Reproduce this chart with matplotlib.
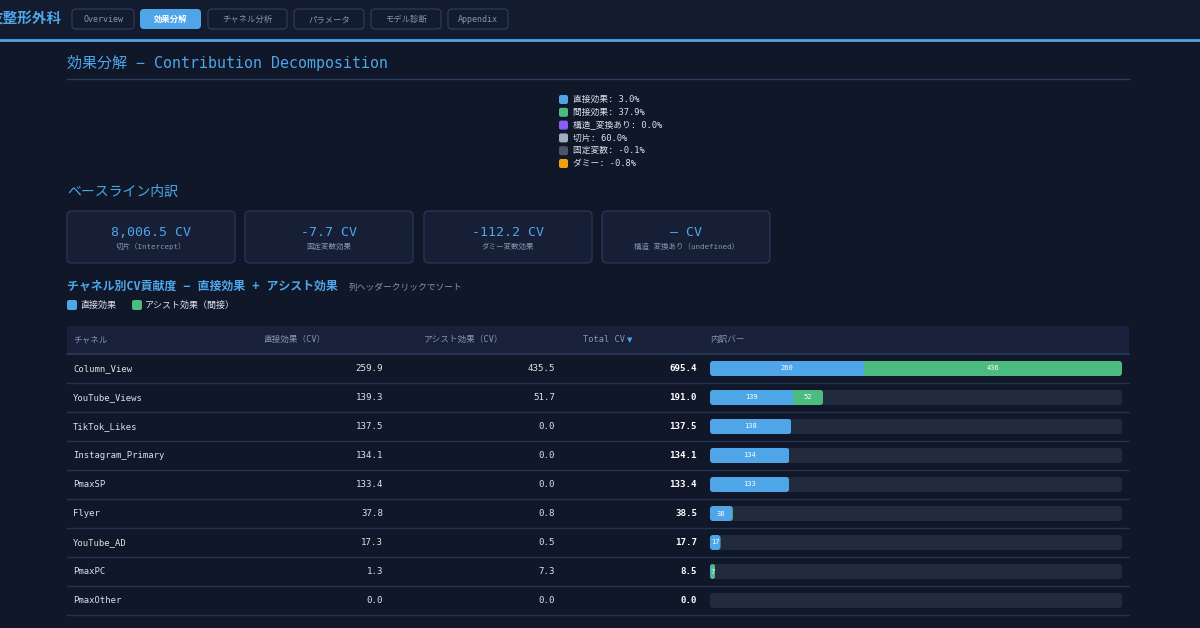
import matplotlib
matplotlib.use("Agg")
import matplotlib.pyplot as plt
from matplotlib.patches import FancyBboxPatch, Rectangle

plt.rcParams["font.family"] = ["DejaVu Sans Mono", "Noto Sans CJK JP"]

# ── Data ────────────────────────────────────────────────────────────────────
tabs = ["Overview", "効果分解", "チャネル分析", "パラメータ", "モデル診断", "Appendix"]
active_tab = "効果分解"

share_labels = ["直接効果", "間接効果", "構造_変換あり", "切片", "固定変数", "ダミー"]
share_values = [3.0, 37.9, 0.0, 60.0, -0.1, -0.8]
share_colors = ["#4ea6e8", "#4cbb7f", "#8b5cf6", "#a3adbf", "#4b5468", "#eea20f"]

card_values = [8006.5, -7.7, -112.2, None]
card_labels = ["切片（Intercept）", "固定変数効果", "ダミー変数効果", "構造 変換あり（undefined）"]

channels = ["Column_View", "YouTube_Views", "TikTok_Likes", "Instagram_Primary",
            "PmaxSP", "Flyer", "YouTube_AD", "PmaxPC", "PmaxOther"]
direct = [259.9, 139.3, 137.5, 134.1, 133.4, 37.8, 17.3, 1.3, 0.0]
assist = [435.5, 51.7, 0.0, 0.0, 0.0, 0.8, 0.5, 7.3, 0.0]
total = [695.4, 191.0, 137.5, 134.1, 133.4, 38.5, 17.7, 8.5, 0.0]

col_headers = ["チャネル", "直接効果（CV）", "アシスト効果（CV）", "Total CV", "内訳バー"]

# ── Colours ─────────────────────────────────────────────────────────────────
BG = "#0f1729"
NAV = "#131b2f"
BLUE = "#4ea6e8"
GREEN = "#4cbb7f"
TXT = "#dbe2ee"
MUTED = "#8795ad"
LINE = "#243250"
CARD = "#161f36"
TRACK = "#222a3e"

W, H = 1200, 628
fig = plt.figure(figsize=(W / 100, H / 100), dpi=100)
fig.patch.set_facecolor(BG)
ax = fig.add_axes([0, 0, 1, 1])
ax.set_xlim(0, W)
ax.set_ylim(H, 0)
ax.axis("off")


def rbox(x, y, w, h, fc, ec="none", r=4, lw=1.0, z=1):
    p = FancyBboxPatch((x, y), w, h, boxstyle=f"round,pad=0,rounding_size={r}",
                       fc=fc, ec=ec, lw=lw, zorder=z)
    ax.add_patch(p)


# ── Nav bar ────────────────────────────────────────────────────────────────
ax.add_patch(Rectangle((0, 0), W, 39, fc=NAV, ec="none", zorder=0))
ax.plot([0, W], [40, 40], color=BLUE, lw=2, zorder=2)
# brand name is clipped by the left edge in the original screenshot
ax.text(62, 19, "友整形外科", ha="right", va="center", color=BLUE,
        fontsize=10.5, fontweight="bold", zorder=3)

tab_x = [72, 140, 208, 294, 371, 448]
tab_w = [62, 61, 79, 70, 70, 60]
for t, x, w in zip(tabs, tab_x, tab_w):
    on = t == active_tab
    rbox(x, 9, w, 20, BLUE if on else NAV, "none" if on else "#2f3a55", r=4, lw=0.9, z=2)
    ax.text(x + w / 2, 19.5, t, ha="center", va="center", fontsize=6,
            color="white" if on else MUTED, fontweight="bold" if on else "normal", zorder=3)

# ── Title ──────────────────────────────────────────────────────────────────
ax.text(67, 63, "効果分解 − Contribution Decomposition", ha="left", va="center",
        color=BLUE, fontsize=10.8)
ax.plot([67, 1129], [78.5, 78.5], color="#2a3c5e", lw=1)

# ── Share legend ───────────────────────────────────────────────────────────
for i, (lab, val, col) in enumerate(zip(share_labels, share_values, share_colors)):
    y = 99.5 + i * 12.8
    rbox(559, y - 4.5, 9, 9, col, r=2, z=2)
    ax.text(573, y, f"{lab}: {val:.1f}%", ha="left", va="center", fontsize=6.3, color=TXT)

# ── Baseline cards ─────────────────────────────────────────────────────────
ax.text(67, 192, "ベースライン内訳", ha="left", va="center", color=BLUE, fontsize=10)
card_x = [67, 245, 424, 602]
for v, lab, x in zip(card_values, card_labels, card_x):
    rbox(x, 211, 168, 52, CARD, "#2a3553", r=5, lw=1)
    s = "–" if v is None else f"{v:,.1f}"
    ax.text(x + 84, 232, f"{s} CV", ha="center", va="center", color=BLUE, fontsize=9.5)
    ax.text(x + 84, 246, lab, ha="center", va="center", color=MUTED, fontsize=5.4)

# ── Channel table heading ──────────────────────────────────────────────────
ax.text(67, 286, "チャネル別CV貢献度 − 直接効果 + アシスト効果", ha="left", va="center",
        color=BLUE, fontsize=8.6, fontweight="bold")
ax.text(349, 287, "列ヘッダークリックでソート", ha="left", va="center", color=MUTED, fontsize=6.3)
rbox(67, 300, 10, 10, BLUE, r=2)
ax.text(80, 305, "直接効果", ha="left", va="center", color=TXT, fontsize=6.5)
rbox(132, 300, 10, 10, GREEN, r=2)
ax.text(145, 305, "アシスト効果（間接）", ha="left", va="center", color=TXT, fontsize=6.5)

# header band
ax.add_patch(Rectangle((67, 326), 1062, 27, fc="#182139", ec="none", zorder=1))
ax.plot([67, 1129], [353.5, 353.5], color="#2c3c5e", lw=1.2, zorder=2)
head_x = [73, 263, 424, 583, 710]
for h, x in zip(col_headers, head_x):
    ax.text(x, 339.5, h, ha="left", va="center", color=MUTED, fontsize=6.2)
ax.text(627, 340, "▼", ha="left", va="center", color=BLUE, fontsize=5, family="DejaVu Sans")

row_h = 29
row0 = 368.5
for i, (ch, d, a, t) in enumerate(zip(channels, direct, assist, total)):
    yc = row0 + i * row_h
    ax.text(73, yc, ch, ha="left", va="center", color=TXT, fontsize=6.4)
    ax.text(383, yc, f"{d:.1f}", ha="right", va="center", color=TXT, fontsize=6.6)
    ax.text(555, yc, f"{a:.1f}", ha="right", va="center", color=TXT, fontsize=6.6)
    ax.text(697, yc, f"{t:.1f}", ha="right", va="center", color="white",
            fontsize=6.6, fontweight="bold")
    ax.plot([67, 1129], [yc + 14.5, yc + 14.5], color=LINE, lw=1, zorder=1)

# ── Breakdown bars (own axes, data scale) ──────────────────────────────────
bx0, bx1 = 710, 1122
top = row0 - row_h / 2
bot = row0 + (len(channels) - 0.5) * row_h
bax = fig.add_axes([bx0 / W, 1 - bot / H, (bx1 - bx0) / W, (bot - top) / H])
bax.set_facecolor("none")
bax.axis("off")
vmax = max(total)
n = len(channels)
ypos = list(range(n))
bar_h = 15 / row_h
bax.set_xlim(0, vmax)
bax.set_ylim(n - 0.5, -0.5)
bt = bax.barh(ypos, [vmax] * n, height=bar_h, color=TRACK, zorder=1)
bd = bax.barh(ypos, direct, height=bar_h, color=BLUE, zorder=2)
ba = bax.barh(ypos, assist, left=direct, height=bar_h, color=GREEN, zorder=2)

# rounded ends (~3 px): clip each row's segments to a rounded box
x_per_px = vmax / (bx1 - bx0)
aspect = (1 / row_h) / x_per_px
for i in range(n):
    rt = bt[i]
    track = FancyBboxPatch((rt.get_x(), rt.get_y()), rt.get_width(), rt.get_height(),
                           boxstyle=f"round,pad=0,rounding_size={3 * x_per_px}",
                           mutation_aspect=aspect, fc=TRACK, ec="none", zorder=1)
    bax.add_patch(track)
    rt.set_visible(False)
    seg_w = bd[i].get_width() + ba[i].get_width()
    if seg_w <= 0:
        continue
    rad = min(3 * x_per_px, seg_w / 2)
    clip = FancyBboxPatch((bd[i].get_x(), bd[i].get_y()), seg_w, bd[i].get_height(),
                          boxstyle=f"round,pad=0,rounding_size={rad}",
                          mutation_aspect=aspect, transform=bax.transData)
    bd[i].set_clip_path(clip)
    ba[i].set_clip_path(clip)

for bars, vals in ((bd, direct), (ba, assist)):
    for r, v in zip(bars, vals):
        if v >= 5:
            bax.text(r.get_x() + r.get_width() / 2, r.get_y() + r.get_height() / 2,
                     f"{round(v)}", ha="center", va="center", color="white", fontsize=5, zorder=3)

fig.savefig("out.png", dpi=100, facecolor=fig.get_facecolor())
